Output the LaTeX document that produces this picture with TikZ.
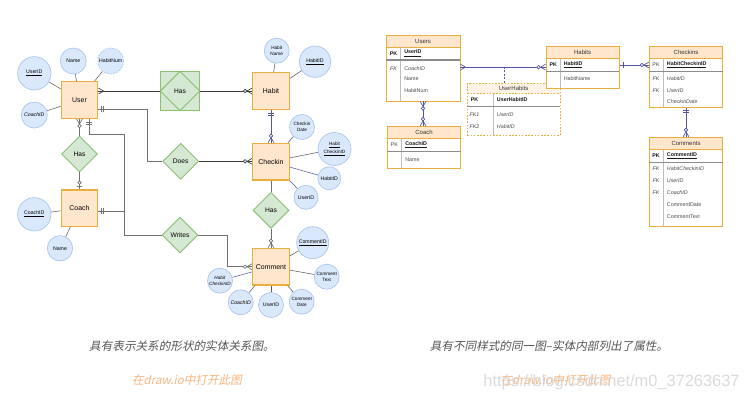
\documentclass[tikz,border=0pt]{standalone}
\usepackage{fontspec}
\setmainfont{Liberation Sans}
\newfontfamily\cjk{Noto Sans CJK SC}[FakeSlant=0.2]
\usetikzlibrary{shapes.geometric,decorations.markings,fit,calc}

\definecolor{entF}{HTML}{FFE6CC}
\definecolor{entD}{HTML}{E8AE3E}
\definecolor{attF}{HTML}{DAE8FC}
\definecolor{attD}{HTML}{A9C4EB}
\definecolor{relF}{HTML}{D5E8D4}
\definecolor{relD}{HTML}{8DBF73}
\definecolor{cg}{HTML}{707070}
\definecolor{cdk}{HTML}{3C3C3C}
\definecolor{cb}{HTML}{5353A8}
\definecolor{capC}{HTML}{555555}
\definecolor{linkC}{HTML}{F8B680}
\definecolor{wm}{HTML}{D4D4D4}
\definecolor{uhF}{HTML}{FFF3E6}
\definecolor{sepC}{HTML}{8C8C8C}
\definecolor{divC}{HTML}{BDBDBD}

% ER end marks (drawn in the markings frame; s=1 entity ahead, s=-1 entity behind)
\newcommand\mkcrow[1]{\draw[draw=\mc,line width=0.5pt] ({-(#1)*3.75pt},0pt) -- (0pt,2.2pt) ({-(#1)*3.75pt},0pt) -- (0pt,-2.2pt);}
\newcommand\mkbar[2]{\draw[draw=\mc,line width=0.5pt] ({-(#1)*#2},-2.2pt) -- ({-(#1)*#2},2.2pt);}
\newcommand\mkcirc[2]{\draw[draw=\mc,fill=white,line width=0.5pt] ({-(#1)*#2},0pt) circle (1.3pt);}
\newcommand\mkmany[1]{\mkcrow{#1}}
\newcommand\mkzmany[1]{\mkcrow{#1}\mkcirc{#1}{5.2pt}}
\newcommand\mkone[1]{\mkbar{#1}{2.2pt}\mkbar{#1}{3.8pt}}
\newcommand\mkzone[1]{\mkbar{#1}{2.4pt}\mkcirc{#1}{5pt}}

\tikzset{
  mE/.style 2 args={postaction={decorate,decoration={markings,mark=at position 0.999 with {\def\mc{#1}#2}}}},
  mS/.style 2 args={postaction={decorate,decoration={markings,mark=at position 0.001 with {\def\mc{#1}#2}}}},
  ent/.style={rectangle, draw=entD, fill=entF, line width=0.9pt, minimum size=27.5pt, inner sep=0pt, font=\fontsize{5.2}{6}\selectfont},
  rel/.style={diamond, aspect=1, draw=relD, fill=relF, line width=0.7pt, minimum width=27pt, minimum height=27pt, inner sep=0pt, font=\fontsize{5}{6}\selectfont},
  relsq/.style={rectangle, draw=relD, fill=relF, line width=0.8pt, minimum size=28.7pt, inner sep=0pt, font=\fontsize{5}{6}\selectfont},
  att/.style={circle, draw=attD, fill=attF, line width=0.5pt, inner sep=-2pt, align=center, font=\fontsize{3.9}{4.4}\selectfont},
  att2/.style={att, font=\fontsize{3.5}{4.1}\selectfont},
  attl/.style={draw=cdk!85, line width=0.4pt},
  attb/.style={draw=cb, line width=0.4pt},
  con/.style={draw=cg, line width=0.55pt},
  conb/.style={draw=cb, line width=0.55pt},
  tbl/.style={rectangle, draw=entD, fill=white, line width=0.6pt, inner sep=0pt},
  thd/.style={rectangle, draw=entD, fill=entF, line width=0.6pt, inner sep=0pt},
  ttl/.style={inner sep=0pt, text=black!80, font=\fontsize{4.5}{5}\selectfont},
  tk/.style={inner sep=0pt, anchor=center, text=black!75, font=\fontsize{4}{4.6}\selectfont},
  tkb/.style={tk, text=black!90, font=\fontsize{4}{4.6}\selectfont\bfseries},
  tki/.style={tk, font=\fontsize{4}{4.6}\selectfont\itshape},
  tr/.style={inner sep=0pt, anchor=west, text=black!70, font=\fontsize{4}{4.6}\selectfont},
  trb/.style={tr, text=black!90, font=\fontsize{4}{4.6}\selectfont\bfseries},
  tri/.style={tr, font=\fontsize{4}{4.6}\selectfont\itshape},
  sepl/.style={draw=sepC, line width=0.8pt},
  divl/.style={draw=divC, line width=0.4pt},
  capt/.style={text=capC, inner sep=0pt, font=\cjk\fontsize{8.7}{10}\selectfont},
  linkt/.style={text=linkC, inner sep=0pt, font=\cjk\fontsize{8.7}{10}\selectfont},
}

\begin{document}
\begin{tikzpicture}[x=0.75pt,y=-0.75pt]
\useasboundingbox (0,0) rectangle (746,401);
\fill[white] (0,0) rectangle (746,401);

% ---------------- left diagram ----------------
\node[ent] (User) at (79.5,100) {User};
\node[ent] (Habit) at (271,91) {Habit};
\node[ent] (Checkin) at (271,161.7) {Checkin};
\node[ent] (Comment) at (271,266.7) {Comment};
\node[ent] (Coach) at (79.5,208.3) {Coach};

\node[relsq] (HasA) at (180,91) {Has};
\draw[draw=relD, line width=0.7pt] (HasA.north) -- (HasA.east) -- (HasA.south) -- (HasA.west) -- cycle;
\node[rel] (Does) at (180.7,161.3) {Does};
\node[rel] (Writes) at (180,235) {Writes};
\node[rel] (HasB) at (79.5,154) {Has};
\node[rel] (HasC) at (271,210.3) {Has};

% attributes
\node[att, minimum size=25pt] (uID) at (34.3,73.3) {\underline{UserID}};
\node[att, minimum size=19.5pt] (uName) at (73.3,61) {Name};
\node[att, minimum size=19.5pt, dash pattern=on 1.5pt off 1pt] (uHN) at (110.7,61) {HabitNum};
\node[att, minimum size=19.5pt] (uCID) at (34.3,115) {\textit{CoachID}};
\node[att, minimum size=25pt] (cID) at (34.3,214.3) {\underline{CoachID}};
\node[att, minimum size=19pt] (cName) at (60,248.3) {Name};
\node[att2, minimum size=18.75pt] (hName) at (276.7,50.7) {Habit\\Name};
\node[att, minimum size=23.5pt] (hID) at (315,61.7) {\underline{HabitID}};
\node[att2, minimum size=18.75pt] (ckDate) at (302,127) {Checkin\\Date};
\node[att2, minimum size=24.75pt] (ckHCID) at (334.5,149) {\underline{Habit}\\\underline{CheckinID}};
\node[att, minimum size=17.25pt] (ckHID) at (329.3,178.3) {HabitID};
\node[att, minimum size=18pt] (ckUID) at (306,197.3) {UserID};
\node[att, minimum size=24pt] (cmID) at (312.7,242.7) {\underline{CommentID}};
\node[att2, minimum size=18.75pt] (cmText) at (326.7,276.7) {Comment\\Text};
\node[att2, minimum size=18.75pt] (cmDate) at (301.7,301.7) {Comment\\Date};
\node[att, minimum size=18.75pt] (cmUID) at (271,305) {UserID};
\node[att, minimum size=18.75pt] (cmCID) at (240.7,302.3) {\textit{CoachID}};
\node[att2, minimum size=18.75pt] (cmHCID) at (220,280.7) {\textit{Habit}\\\textit{CheckinID}};

\draw[attl] (uID) -- (User);
\draw[attl] (uName) -- (User);
\draw[attl] (uHN) -- (User);
\draw[attl] (uCID) -- (User);
\draw[attl] (cID) -- (Coach);
\draw[attl] (cName) -- (Coach);
\draw[attl] (hName) -- (Habit);
\draw[attl] (hID) -- (Habit);
\draw[attl] (ckDate) -- (Checkin);
\draw[attl] (ckHCID) -- (Checkin);
\draw[attb] (ckHID) -- (Checkin);
\draw[attb] (ckUID) -- (Checkin);
\draw[attl] (cmID) -- (Comment);
\draw[attl] (cmText) -- (Comment);
\draw[attl] (cmDate) -- (Comment);
\draw[attl] (cmUID) -- (Comment);
\draw[attl] (cmCID) -- (Comment);
\draw[attb] (cmHCID) -- (Comment);

% relationships
\draw[con, draw=cdk, mE={cdk}{\mkmany{1}}] (HasA.west) -- (HasA.west -| User.east);
\draw[con, draw=cdk, mE={cdk}{\mkzmany{1}}] (HasA.east) -- (Habit.west);
\draw[con, mS={cg}{\mkone{-1}}] ([yshift=-6.75pt]User.east) -- ++(48.7,0) |- (Does.west);
\draw[con, draw=cdk, mE={cdk}{\mkzmany{1}}] (Does.east) -- (Does.east -| Checkin.west);
\draw[con, mS={cg}{\mkzmany{-1}}] (User.south) -- (HasB.north);
\draw[con, mE={cg}{\mkzone{1}}] (HasB.south) -- (Coach.north);
\draw[con, mS={cg}{\mkone{-1}}] ([xshift=7.1pt]User.south) -- ++(0,15) -- ++(35,0) |- (Writes.west);
\draw[con, mS={cg}{\mkone{-1}}] ([yshift=-2pt]Coach.east) -- ++(26,0) |- (Writes.west);
\draw[con, mE={cg}{\mkzmany{1}}] (Writes.east) -- ++(29,0) |- (Comment.west);
\draw[conb, mS={cb}{\mkone{-1}}, mE={cb}{\mkzmany{1}}] (Habit.south) -- (Checkin.north);
\draw[con] (Checkin.south) -- (HasC.north);
\draw[con, mE={cg}{\mkzmany{1}}] (HasC.south) -- (Comment.north);

% ---------------- right diagram ----------------
% Users
\node[tbl, fit={(386,35.7) (460,101)}] (Users) {};
\node[thd, fit={(386,35.7) (460,47)}] (UsersH) {};
\node[ttl] (UsersT) at (UsersH.center) {Users};
\draw[divl] (400.7,47) -- (400.7,101);
\draw[sepl] (386,60) -- (460,60);
\node[tkb] (UsersPK) at (393.5,53.5) {PK};
\node[trb] (UsersK) at (404,53.5) {\underline{UserID}};
\node[tki] (UsersF1) at (393.5,68.3) {FK};
\node[tri] (UsersA1) at (404,68.3) {CoachID};
\node[tr] (UsersA2) at (404,78.7) {Name};
\node[tr] (UsersA3) at (404,90.3) {HabitNum};

% Coach
\node[tbl, fit={(387.3,126.5) (460.7,168)}] (CoachT) {};
\node[thd, fit={(387.3,126.5) (460.7,138)}] (CoachH) {};
\node[ttl] (CoachTT) at (CoachH.center) {Coach};
\draw[divl] (401.5,138) -- (401.5,168);
\draw[sepl] (387.3,151.5) -- (460.7,151.5);
\node[tk] (CoachPK) at (394.3,144.7) {PK};
\node[trb] (CoachK) at (405,144.7) {\underline{CoachID}};
\node[tr] (CoachA1) at (405,159.5) {Name};

% UserHabits
\node[tbl, dash pattern=on 1.2pt off 1.2pt, fit={(467.3,83.3) (560,135)}] (UH) {};
\node[thd, fill=uhF, dash pattern=on 1.2pt off 1.2pt, fit={(467.3,83.3) (560,93.5)}] (UHH) {};
\node[ttl] (UHT) at (UHH.center) {UserHabits};
\draw[divl] (493.3,93.5) -- (493.3,135);
\draw[sepl] (467.3,106.7) -- (560,106.7);
\node[tkb] (UHPK) at (474.5,100) {PK};
\node[trb] (UHK) at (496.7,100) {UserHabitID};
\node[tki] (UHF1) at (474.5,114.3) {FK1};
\node[tri] (UHA1) at (496.7,114.3) {UserID};
\node[tki] (UHF2) at (474.5,126.7) {FK2};
\node[tri] (UHA2) at (496.7,126.7) {HabitID};

% Habits
\node[tbl, fit={(546,46) (619.3,88.3)}] (Habits) {};
\node[thd, fit={(546,46) (619.3,58.3)}] (HabitsH) {};
\node[ttl] (HabitsT) at (HabitsH.center) {Habits};
\draw[divl] (560.7,58.3) -- (560.7,88.3);
\draw[sepl] (546,71.7) -- (619.3,71.7);
\node[tkb] (HabitsPK) at (553.3,65) {PK};
\node[trb] (hpk) at (563.5,65) {\underline{HabitID}};
\node[tr] (HabitsA1) at (563.5,78.3) {HabitName};

% Checkins
\node[tbl, fit={(649.3,46) (722.7,107.3)}] (Checkins) {};
\node[thd, fit={(649.3,46) (722.7,58.3)}] (CheckinsH) {};
\node[ttl] (CheckinsT) at (CheckinsH.center) {Checkins};
\draw[divl] (663.3,58.3) -- (663.3,107.3);
\draw[sepl] (649.3,71.7) -- (722.7,71.7);
\node[tk] (CkPK) at (656,65) {PK};
\node[trb] (CkK) at (666.7,65) {\underline{HabitCheckinID}};
\node[tki] (CkF1) at (656,78.3) {FK};
\node[tri] (CkA1) at (666.7,78.3) {HabitID};
\node[tki] (CkF2) at (656,90.3) {FK};
\node[tri] (CkA2) at (666.7,90.3) {UserID};
\node[tri] (CkA3) at (666.7,102) {CheckinDate};

% Comments
\node[tbl, fit={(649.3,137.3) (722.7,226.7)}] (Comments) {};
\node[thd, fit={(649.3,137.3) (722.7,149)}] (CommentsH) {};
\node[ttl] (CommentsT) at (CommentsH.center) {Comments};
\draw[divl] (663.3,149) -- (663.3,226.7);
\draw[sepl] (649.3,162.3) -- (722.7,162.3);
\node[tkb] (CmPK) at (656,155.7) {PK};
\node[trb] (CmK) at (666.7,155.7) {\underline{CommentID}};
\node[tki] (CmF1) at (656,168.3) {FK};
\node[tri] (CmA1) at (666.7,168.3) {HabitCheckinID};
\node[tki] (CmF2) at (656,180.7) {FK};
\node[tri] (CmA2) at (666.7,180.7) {UserID};
\node[tki] (CmF3) at (656,192.7) {FK};
\node[tri] (CmA3) at (666.7,192.7) {CoachID};
\node[tr] (CmA4) at (666.7,204.7) {CommentDate};
\node[tr] (CmA5) at (666.7,216.7) {CommentText};

% right connectors
\coordinate (uhtop) at ([xshift=-7pt]UH.north);
\draw[conb, dash pattern=on 1.5pt off 1.2pt] (uhtop) -- (uhtop |- Habits.west);
\draw[conb, mS={cb}{\mkmany{-1}}, mE={cb}{\mkzmany{1}}] (Users.east |- Habits.west) -- (Habits.west);
\draw[conb, mS={cb}{\mkbar{-1}{2.6pt}}, mE={cb}{\mkzmany{1}}] (Habits.east |- hpk) -- (Checkins.west |- hpk);
\draw[conb, mS={cb}{\mkone{-1}}, mE={cb}{\mkzmany{1}}] (Checkins.south) -- (Comments.north);
\draw[conb, mS={cb}{\mkzmany{-1}}, mE={cb}{\mkzmany{1}}] (Users.south) -- (Users.south |- CoachT.north);

% ---------------- captions ----------------
\node[capt] (cap1) at (182,346) {具有表示关系的形状的实体关系图。};
\node[capt] (cap2) at (549,346) {具有不同样式的同一图–实体内部列出了属性。};
\node[linkt] (lnk1) at (187,380) {在draw.io中打开此图};
\node[linkt] (lnk2) at (555.5,380) {在draw.io中打开此图};
\node[text=wm, text opacity=0.85, inner sep=0pt, font=\fontsize{12.3}{14}\selectfont] (wmk) at (611.5,382) {https://blog.csdn.net/m0\_37263637};
\end{tikzpicture}
\end{document}
